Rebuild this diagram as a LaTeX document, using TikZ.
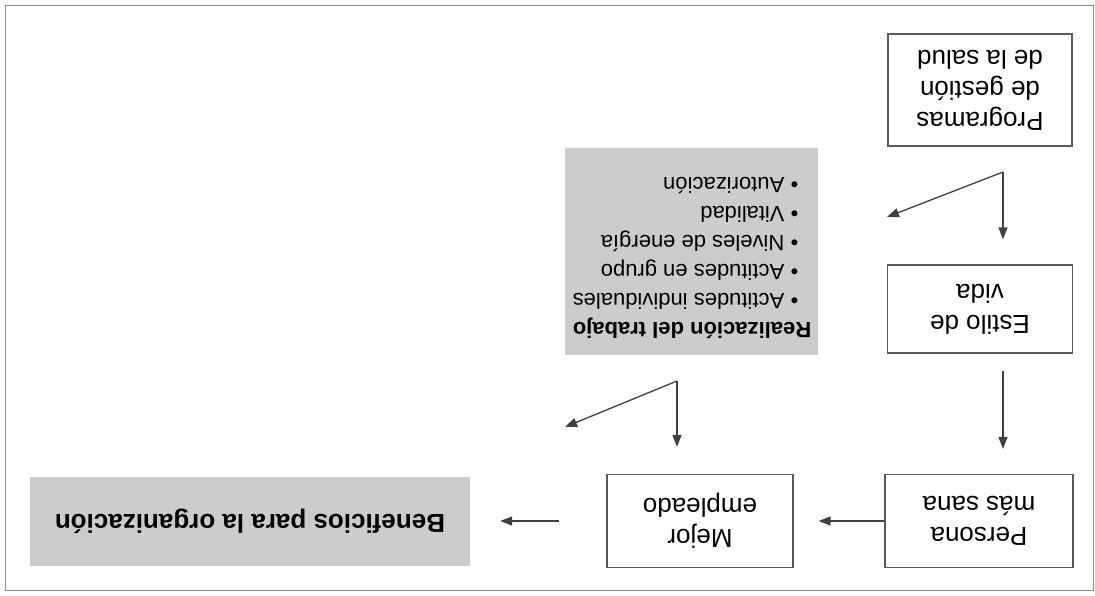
\documentclass[tikz,border=0pt]{standalone}
\usepackage{fontspec}
\setmainfont{Liberation Sans}
\usetikzlibrary{arrows.meta}

\begin{document}
\begin{tikzpicture}[x=1pt, y=1pt, rotate=180, transform shape,
    caja/.style={draw=black!65, line width=1.2pt, fill=white, align=center, inner sep=0pt, font=\fontsize{26}{31}\selectfont},
    sombra/.style={fill=black!20, inner sep=0pt},
    flecha/.style={draw=black!75, line width=1.3pt, -{Triangle[length=12pt,width=9pt]}}]
\useasboundingbox (0,0) rectangle (1095,595);
\draw[black!45, line width=0.8pt] (2,5) rectangle (1090,590);
\node[caja, minimum width=184, minimum height=112] (prog) at (115,90) {Programas\\de gestión\\de la salud};
\node[caja, minimum width=185, minimum height=88] (estilo) at (115,309) {Estilo de\\vida};
\node[caja, minimum width=188, minimum height=93] (persona) at (116,521) {Persona\\más sana};
\node[caja, minimum width=186, minimum height=93] (mejor) at (395,521) {Mejor\\empleado};
\node[sombra, minimum width=440, minimum height=89, font=\bfseries\fontsize{26}{31}\selectfont] (benef) at (845,521) {Beneficios para la organización};
\node[sombra, minimum width=253, minimum height=207, align=left, font=\fontsize{22}{29}\selectfont] (realiz) at (403,251)
    {{\bfseries Realización del trabajo}\\
     \hspace{13pt}\makebox[14pt][l]{\textbullet}Actitudes individuales\\
     \hspace{13pt}\makebox[14pt][l]{\textbullet}Actitudes en grupo\\
     \hspace{13pt}\makebox[14pt][l]{\textbullet}Niveles de energía\\
     \hspace{13pt}\makebox[14pt][l]{\textbullet}Vitalidad\\
     \hspace{13pt}\makebox[14pt][l]{\textbullet}Autorización\\[-14pt]};
\coordinate (f1) at (92,172);
\coordinate (d1) at (208,217);
\coordinate (f2) at (418,381);
\coordinate (d2) at (530,427);
\draw[flecha, shorten >=25pt] (f1) -- (f1 |- estilo.south);
\draw[flecha] (f1) -- (d1);
\draw[flecha, shorten <=17pt, shorten >=25pt] (f1 |- estilo.north) -- (f1 |- persona.south);
\draw[flecha, shorten >=25pt] (persona.east) -- (mejor.west);
\draw[flecha, shorten >=27pt] (f2) -- (f2 |- mejor.south);
\draw[flecha] (f2) -- (d2);
\draw[flecha, shorten <=47pt, shorten >=30pt] (mejor.east) -- (benef.west);
\end{tikzpicture}
\end{document}
